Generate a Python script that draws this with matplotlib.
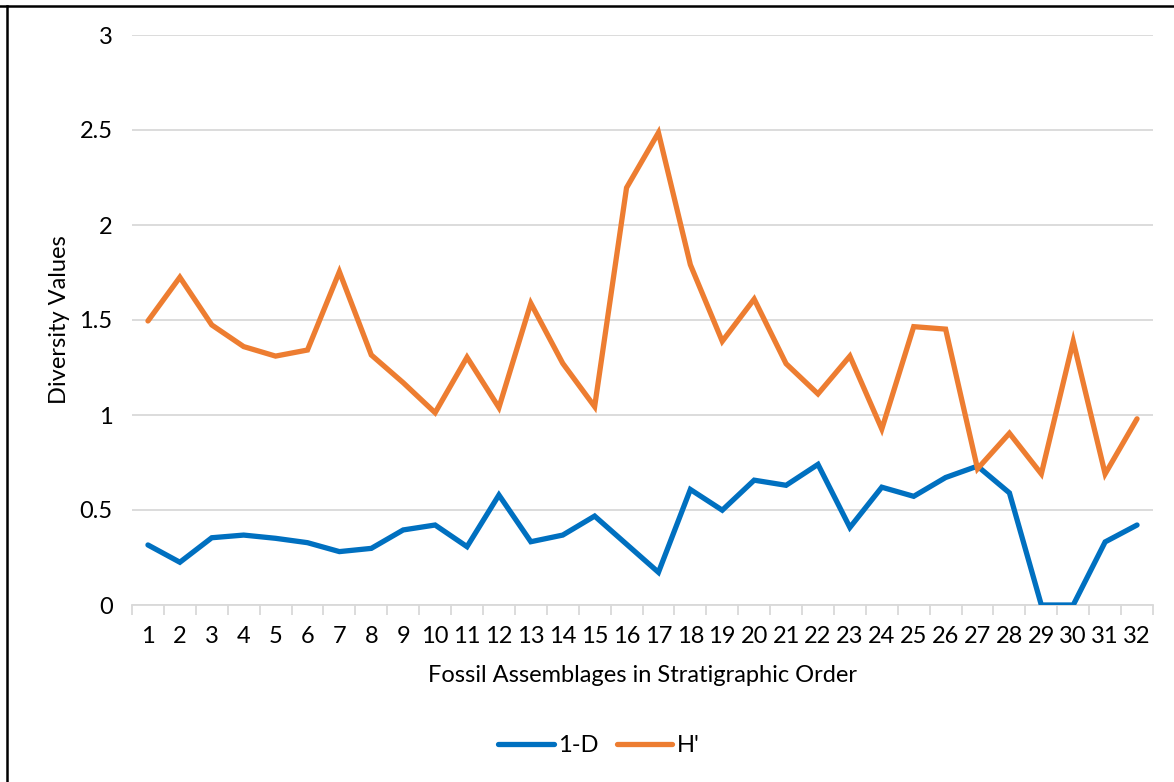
import matplotlib
matplotlib.use("Agg")
import matplotlib.pyplot as plt
from matplotlib.lines import Line2D

categories = list(range(1, 33))
one_minus_d = [0.316, 0.225, 0.354, 0.368, 0.351, 0.328, 0.281, 0.298, 0.395, 0.421,
               0.307, 0.579, 0.333, 0.368, 0.468, 0.32, 0.172, 0.608, 0.499, 0.657,
               0.63, 0.74, 0.408, 0.62, 0.572, 0.671, 0.731, 0.59, 0.0, 0.0,
               0.332, 0.421]
h_prime = [1.495, 1.725, 1.474, 1.36, 1.31, 1.342, 1.754, 1.316, 1.17, 1.012,
           1.304, 1.039, 1.588, 1.272, 1.044, 2.196, 2.486, 1.791, 1.388, 1.61,
           1.27, 1.111, 1.31, 0.926, 1.465, 1.452, 0.717, 0.904, 0.69, 1.388,
           0.69, 0.98]
y_ticks = [0, 0.5, 1, 1.5, 2, 2.5, 3]
y_tick_labels = ["0", "0.5", "1", "1.5", "2", "2.5", "3"]

plt.rcParams['font.family'] = ['Lato', 'DejaVu Sans']

W, H = 1174, 782
fig = plt.figure(figsize=(W / 100, H / 100), dpi=100)
left, right, top, bottom = 132, 1153, 35, 605
ax = fig.add_axes([left / W, 1 - bottom / H, (right - left) / W, (bottom - top) / H])

blue = '#0070C0'
orange = '#ED7D31'
ax.plot(categories, one_minus_d, color=blue, lw=3.8, solid_capstyle='round',
        solid_joinstyle='miter', label='1-D', zorder=3)
ax.plot(categories, h_prime, color=orange, lw=3.8, solid_capstyle='round',
        solid_joinstyle='miter', label="H'", zorder=3)

ax.set_xlim(0.5, 32.5)
ax.set_ylim(0, 3)
ax.set_yticks(y_ticks)
ax.set_yticklabels(y_tick_labels)
ax.set_xticks(categories)
ax.set_xticklabels([str(c) for c in categories])
ax.set_xticks([c + 0.5 for c in range(0, 33)], minor=True)

for s in ['top', 'right', 'left']:
    ax.spines[s].set_visible(False)
ax.spines['bottom'].set_color('#D9D9D9')
ax.spines['bottom'].set_linewidth(1.3)
ax.grid(axis='y', color='#D9D9D9', lw=1.3, zorder=0)
ax.set_axisbelow(True)

fs = 17
ax.tick_params(axis='y', length=0, pad=14, labelsize=fs, colors='#000000')
ax.tick_params(axis='x', which='major', length=0, pad=15, labelsize=fs)
ax.tick_params(axis='x', which='minor', length=7, width=1.3, color='#D9D9D9')

ax.set_xlabel('Fossil Assemblages in Stratigraphic Order', fontsize=fs, labelpad=13)
ax.set_ylabel('Diversity Values', fontsize=fs, labelpad=7)

leg = fig.legend(loc='center', bbox_to_anchor=(599 / W, 1 - 746 / H), ncol=2,
                 frameon=False, fontsize=fs, handlelength=2.35, columnspacing=0.75,
                 handletextpad=0.2)

# outer border lines (top and left)
fig.add_artist(Line2D([0, 1], [1 - 5.5 / H, 1 - 5.5 / H], transform=fig.transFigure,
                      color='black', lw=1.8))
fig.add_artist(Line2D([7 / W, 7 / W], [0, 1 - 5.5 / H], transform=fig.transFigure,
                      color='black', lw=1.8))

fig.savefig('out.png', dpi=100)
